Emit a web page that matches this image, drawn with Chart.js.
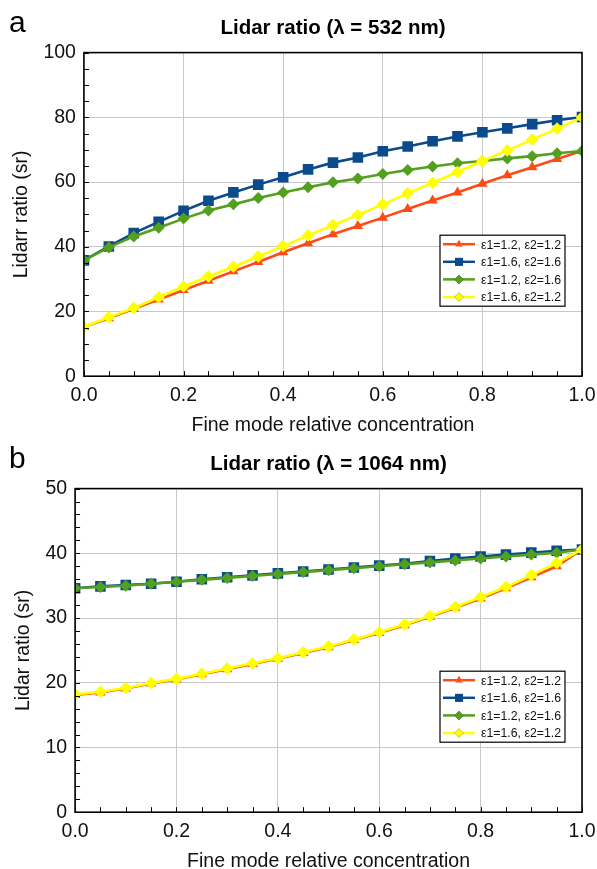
<!DOCTYPE html>
<html>
<head>
<meta charset="utf-8">
<script src="https://cdn.jsdelivr.net/npm/chart.js@4/dist/chart.umd.min.js"></script>
<style>
  html, body { margin: 0; padding: 0; background: #fff; overflow: hidden; height: 869px; }
  .panel { position: absolute; left: 0; width: 597px; height: 445px; }
</style>
</head>
<body>
<div class="panel" style="top:0"><canvas id="chartA"></canvas></div>
<div class="panel" style="top:436px"><canvas id="chartB"></canvas></div>
<script>
// x values shared by both panels
var fineMode = [0, 0.05, 0.1, 0.15, 0.2, 0.25, 0.3, 0.35, 0.4, 0.45, 0.5,
                0.55, 0.6, 0.65, 0.7, 0.75, 0.8, 0.85, 0.9, 0.95, 1.0];

var seriesLabels = ["ε1=1.2, ε2=1.2", "ε1=1.6, ε2=1.6", "ε1=1.2, ε2=1.6", "ε1=1.6, ε2=1.2"];

// panel a, 532 nm
var lr532_12_12 = [15.2, 17.9, 20.8, 23.7, 26.6, 29.5, 32.4, 35.3, 38.3, 41.1, 43.9,
                   46.4, 49.0, 51.7, 54.3, 56.8, 59.5, 62.1, 64.6, 67.1, 69.6];
var lr532_16_16 = [35.8, 40.1, 44.2, 47.7, 51.1, 54.2, 56.8, 59.2, 61.5, 63.9, 66.0,
                   67.6, 69.5, 71.0, 72.6, 74.1, 75.4, 76.6, 77.9, 79.1, 80.1];
var lr532_12_16 = [35.8, 39.8, 43.2, 45.9, 48.7, 51.2, 53.1, 55.1, 56.8, 58.4, 59.9,
                   61.1, 62.5, 63.7, 64.8, 65.8, 66.5, 67.3, 68.0, 68.9, 69.6];
var lr532_16_12 = [15.2, 18.2, 21.1, 24.4, 27.7, 30.8, 33.8, 37.0, 40.2, 43.5, 46.7,
                   49.8, 53.1, 56.5, 59.8, 63.1, 66.5, 69.8, 73.1, 76.5, 80.0];

// panel b, 1064 nm
var lr1064_12_12 = [18.1, 18.5, 19.1, 19.9, 20.5, 21.3, 22.1, 22.9, 23.7, 24.6, 25.5,
                    26.6, 27.7, 28.9, 30.2, 31.6, 33.0, 34.6, 36.3, 38.0, 40.6];
var lr1064_16_16 = [34.6, 34.9, 35.1, 35.3, 35.6, 36.0, 36.3, 36.6, 36.9, 37.2, 37.5,
                    37.8, 38.1, 38.4, 38.8, 39.2, 39.5, 39.8, 40.1, 40.4, 40.6];
var lr1064_12_16 = [34.6, 34.8, 35.0, 35.3, 35.6, 35.9, 36.2, 36.5, 36.8, 37.1, 37.4,
                    37.7, 38.0, 38.3, 38.6, 38.9, 39.2, 39.5, 39.8, 40.1, 40.6];
var lr1064_16_12 = [18.2, 18.6, 19.2, 19.95, 20.6, 21.4, 22.2, 23.0, 23.8, 24.7, 25.6,
                    26.7, 27.8, 29.0, 30.3, 31.7, 33.2, 34.8, 36.6, 38.5, 40.6];

var colors = ["#ff4a14", "#0b4a8b", "#52a01e", "#ffff00"];
var styles = ["triangle", "rect", "rectRot", "rectRot"];
var radii = [6, 7.5, 6, 6.3];
var FONT = "'Liberation Sans', Arial, sans-serif";

function makeDatasets(lists) {
  return lists.map(function (vals, i) {
    return {
      label: seriesLabels[i],
      data: fineMode.map(function (x, j) { return { x: x, y: vals[j] }; }),
      borderColor: colors[i],
      backgroundColor: colors[i],
      borderWidth: 2.6,
      pointStyle: styles[i],
      pointRadius: radii[i],
      pointBorderWidth: 0,
      pointBackgroundColor: colors[i],
      order: 4 - i
    };
  });
}

// box, inward ticks, panel letter and legend
var framePlugin = {
  id: "frame",
  afterDraw: function (chart, args, opts) {
    var ctx = chart.ctx, a = chart.chartArea;
    var xs = chart.scales.x, ys = chart.scales.y;
    ctx.save();
    ctx.strokeStyle = "#000";
    ctx.lineWidth = 1;
    ctx.beginPath();
    for (var v = 0; v <= 1.0001; v += 0.05) {
      var px = Math.round(xs.getPixelForValue(v)) + 0.5;
      ctx.moveTo(px, a.bottom); ctx.lineTo(px, a.bottom - 5);
    }
    for (var w = 0; w <= opts.yMax + 0.001; w += opts.yMinor) {
      var py = Math.round(ys.getPixelForValue(w)) + 0.5;
      ctx.moveTo(a.left, py); ctx.lineTo(a.left + 5, py);
    }
    ctx.stroke();
    ctx.lineWidth = 1.6;
    ctx.strokeRect(a.left, a.top, a.right - a.left, a.bottom - a.top);

    // panel letter
    ctx.fillStyle = "#000";
    ctx.font = "30px " + FONT;
    ctx.textBaseline = "alphabetic";
    ctx.textAlign = "left";
    ctx.fillText(opts.letter, 9, 32);

    // legend
    var bw = 125, bh = 71;
    var bx = a.right - 17 - bw, by = a.bottom - 70 - bh;
    ctx.fillStyle = "#fff";
    ctx.fillRect(bx, by, bw, bh);
    ctx.lineWidth = 1.2;
    ctx.strokeStyle = "#000";
    ctx.strokeRect(bx, by, bw, bh);
    ctx.font = "12.3px " + FONT;
    ctx.textBaseline = "middle";
    chart.data.datasets.forEach(function (ds, i) {
      var ry = by + 9 + i * 17.6;
      ctx.strokeStyle = ds.borderColor;
      ctx.lineWidth = 2.5;
      ctx.beginPath();
      ctx.moveTo(bx + 3, ry); ctx.lineTo(bx + 35, ry);
      ctx.stroke();
      Chart.helpers.drawPoint(ctx, {
        pointStyle: ds.pointStyle, radius: i === 1 ? 5.5 : 4.5,
        borderWidth: 0, rotation: 0
      }, bx + 19, ry);
      ctx.fillStyle = ds.backgroundColor;
      ctx.fill();
      ctx.fillStyle = "#111";
      ctx.fillText(ds.label, bx + 41, ry + 1);
    });
    ctx.restore();
  }
};

function makeChart(id, title, yTitle, yMax, yStep, yMinor, letter, leftPad, lists) {
  return new Chart(document.getElementById(id), {
    type: "line",
    data: { datasets: makeDatasets(lists) },
    plugins: [framePlugin],
    options: {
      responsive: true,
      maintainAspectRatio: false,
      animation: false,
      layout: { padding: { left: leftPad, right: 15, top: 0, bottom: 8 } },
      plugins: {
        legend: { display: false },
        tooltip: { enabled: false },
        title: {
          display: true, text: title, fullSize: false, color: "#000",
          font: { family: FONT, size: 20.5, weight: "bold" },
          padding: { top: 16, bottom: 12 }
        },
        frame: { yMax: yMax, yMinor: yMinor, letter: letter }
      },
      scales: {
        x: {
          type: "linear", min: 0, max: 1,
          // let the "1.0" label hang into the right margin
          afterFit: function (scale) { scale.paddingRight = 0; },
          ticks: {
            stepSize: 0.2, color: "#111", padding: 8, maxRotation: 0,
            font: { family: FONT, size: 19.5 },
            callback: function (v) { return v.toFixed(1); }
          },
          grid: { color: "#c8c8c8", drawTicks: false },
          border: { display: false },
          title: {
            display: true, text: "Fine mode relative concentration", color: "#111",
            font: { family: FONT, size: 19.5 }, padding: { top: -2, bottom: 0 }
          }
        },
        y: {
          min: 0, max: yMax,
          ticks: {
            stepSize: yStep, color: "#111", padding: 8,
            font: { family: FONT, size: 19.5 }
          },
          grid: { color: "#c8c8c8", drawTicks: false },
          border: { display: false },
          title: {
            display: true, text: yTitle, color: "#111",
            font: { family: FONT, size: 19.5 }, padding: { top: 0, bottom: 2 }
          }
        }
      }
    }
  });
}

makeChart("chartA", "Lidar ratio (λ = 532 nm)", "Lidarr ratio (sr)", 100, 20, 5, "a", 10,
          [lr532_12_12, lr532_16_16, lr532_12_16, lr532_16_12]);
makeChart("chartB", "Lidar ratio (λ = 1064 nm)", "Lidar ratio (sr)", 50, 10, 2, "b", 12,
          [lr1064_12_12, lr1064_16_16, lr1064_12_16, lr1064_16_12]);
</script>
</body>
</html>
